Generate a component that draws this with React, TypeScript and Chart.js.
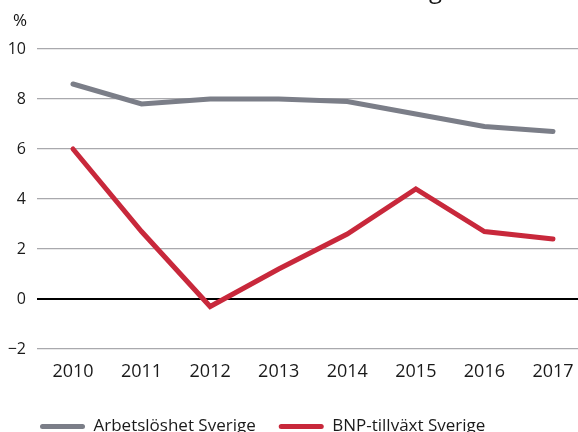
import React, { useEffect, useRef } from "react";
import { Chart, registerables } from "chart.js";

Chart.register(...registerables);

const years = [2010, 2011, 2012, 2013, 2014, 2015, 2016, 2017];
const arbetsloshet = [8.6, 7.8, 8.0, 8.0, 7.9, 7.4, 6.9, 6.7];
const bnpTillvaxt = [6.0, 2.7, -0.3, 1.2, 2.6, 4.4, 2.7, 2.4];
const yTicks = [-2, 0, 2, 4, 6, 8, 10];
const seriesNames = ["Arbetslöshet Sverige", "BNP-tillväxt Sverige"];
const titleText = "Arbetslöshet och BNP-tillväxt i Sverige";
const unitLabel = "%";

const GRAY = "#7b7e88";
const RED = "#c8283b";
const FONT = "'Open Sans', 'Noto Sans', sans-serif";
const H = 445;

const extrasPlugin = {
  id: "extras",
  afterLayout(chart: any) {
    if (chart.legend) {
      const w = chart.legend.right - chart.legend.left;
      chart.legend.left = 17;
      chart.legend.right = 17 + w;
    }
  },
  afterDraw(chart: any) {
    const ctx = chart.ctx;
    ctx.save();
    ctx.fillStyle = "#111";
    ctx.font = `24px ${FONT}`;
    ctx.textBaseline = "alphabetic";
    ctx.textAlign = "left";
    const pre = ctx.measureText(titleText.slice(0, titleText.length - 2)).width;
    ctx.fillText(titleText, 429 - pre, -2);
    ctx.font = `17px ${FONT}`;
    ctx.textBaseline = "middle";
    ctx.textAlign = "left";
    ctx.fillText(unitLabel, 13, 21);
    ctx.restore();
  },
};

export default function App() {
  const ref = useRef<HTMLCanvasElement | null>(null);
  useEffect(() => {
    if (!ref.current) return;
    const chart = new Chart(ref.current, {
      type: "line",
      data: {
        datasets: [
          {
            label: seriesNames[0],
            data: years.map((x, i) => ({ x, y: arbetsloshet[i] })),
            borderColor: GRAY,
            backgroundColor: GRAY,
            borderWidth: 5,
            pointRadius: 0,
            borderCapStyle: "round",
            borderJoinStyle: "miter",
            tension: 0,
          },
          {
            label: seriesNames[1],
            data: years.map((x, i) => ({ x, y: bnpTillvaxt[i] })),
            borderColor: RED,
            backgroundColor: RED,
            borderWidth: 5,
            pointRadius: 0,
            borderCapStyle: "round",
            borderJoinStyle: "miter",
            tension: 0,
          },
        ],
      },
      options: {
        animation: false,
        responsive: false,
        maintainAspectRatio: false,
        layout: { padding: { left: 0, top: 49, right: 0, bottom: 0 } },
        scales: {
          x: {
            type: "linear",
            min: 2009.475,
            max: 2017.365,
            afterBuildTicks: (scale: any) => {
              scale.ticks = years.map((v) => ({ value: v }));
            },
            afterFit: (scale: any) => {
              scale.height = 46;
              scale.paddingLeft = 0;
              scale.paddingRight = 0;
            },
            grid: { display: false, drawTicks: false },
            border: { display: false },
            ticks: {
              autoSkip: false,
              maxRotation: 0,
              padding: 12,
              color: "#1a1a1a",
              font: { family: FONT, size: 18 },
              callback: (v: any) => String(v),
            },
          },
          y: {
            min: -2,
            max: 10,
            afterBuildTicks: (scale: any) => {
              scale.ticks = yTicks.map((v) => ({ value: v }));
            },
            afterFit: (scale: any) => {
              scale.width = 37;
              scale.paddingTop = 0;
              scale.paddingBottom = 0;
            },
            border: { display: false },
            grid: {
              drawTicks: false,
              color: (c: any) => (c.tick && c.tick.value === 0 ? "#000" : "#a9a9ad"),
              lineWidth: (c: any) => (c.tick && c.tick.value === 0 ? 2 : 1.3),
            },
            ticks: {
              padding: 11,
              color: "#1a1a1a",
              font: { family: FONT, size: 16 },
              callback: (v: any) => (v < 0 ? "\u2212" + Math.abs(v) : String(v)),
            },
          },
        },
        plugins: {
          title: { display: false },
          tooltip: { enabled: false },
          legend: {
            display: true,
            position: "bottom",
            align: "start",
            labels: {
              boxWidth: 45,
              boxHeight: 5,
              useBorderRadius: true,
              borderRadius: 2.5,
              padding: 23,
              color: "#1a1a1a",
              font: { family: FONT, size: 17 },
              generateLabels: (ch: any) =>
                Chart.defaults.plugins.legend.labels
                  .generateLabels(ch)
                  .map((l: any) => ({ ...l, lineWidth: 0 })),
            },
          },
        },
      },
      plugins: [extrasPlugin],
    });
    return () => chart.destroy();
  }, []);
  return (
    <div style={{ position: "fixed", left: 0, top: 0, width: 578, height: H, overflow: "hidden" }}>
      <canvas ref={ref} width={578} height={H} style={{ display: "block", width: 578, height: H }} />
    </div>
  );
}
